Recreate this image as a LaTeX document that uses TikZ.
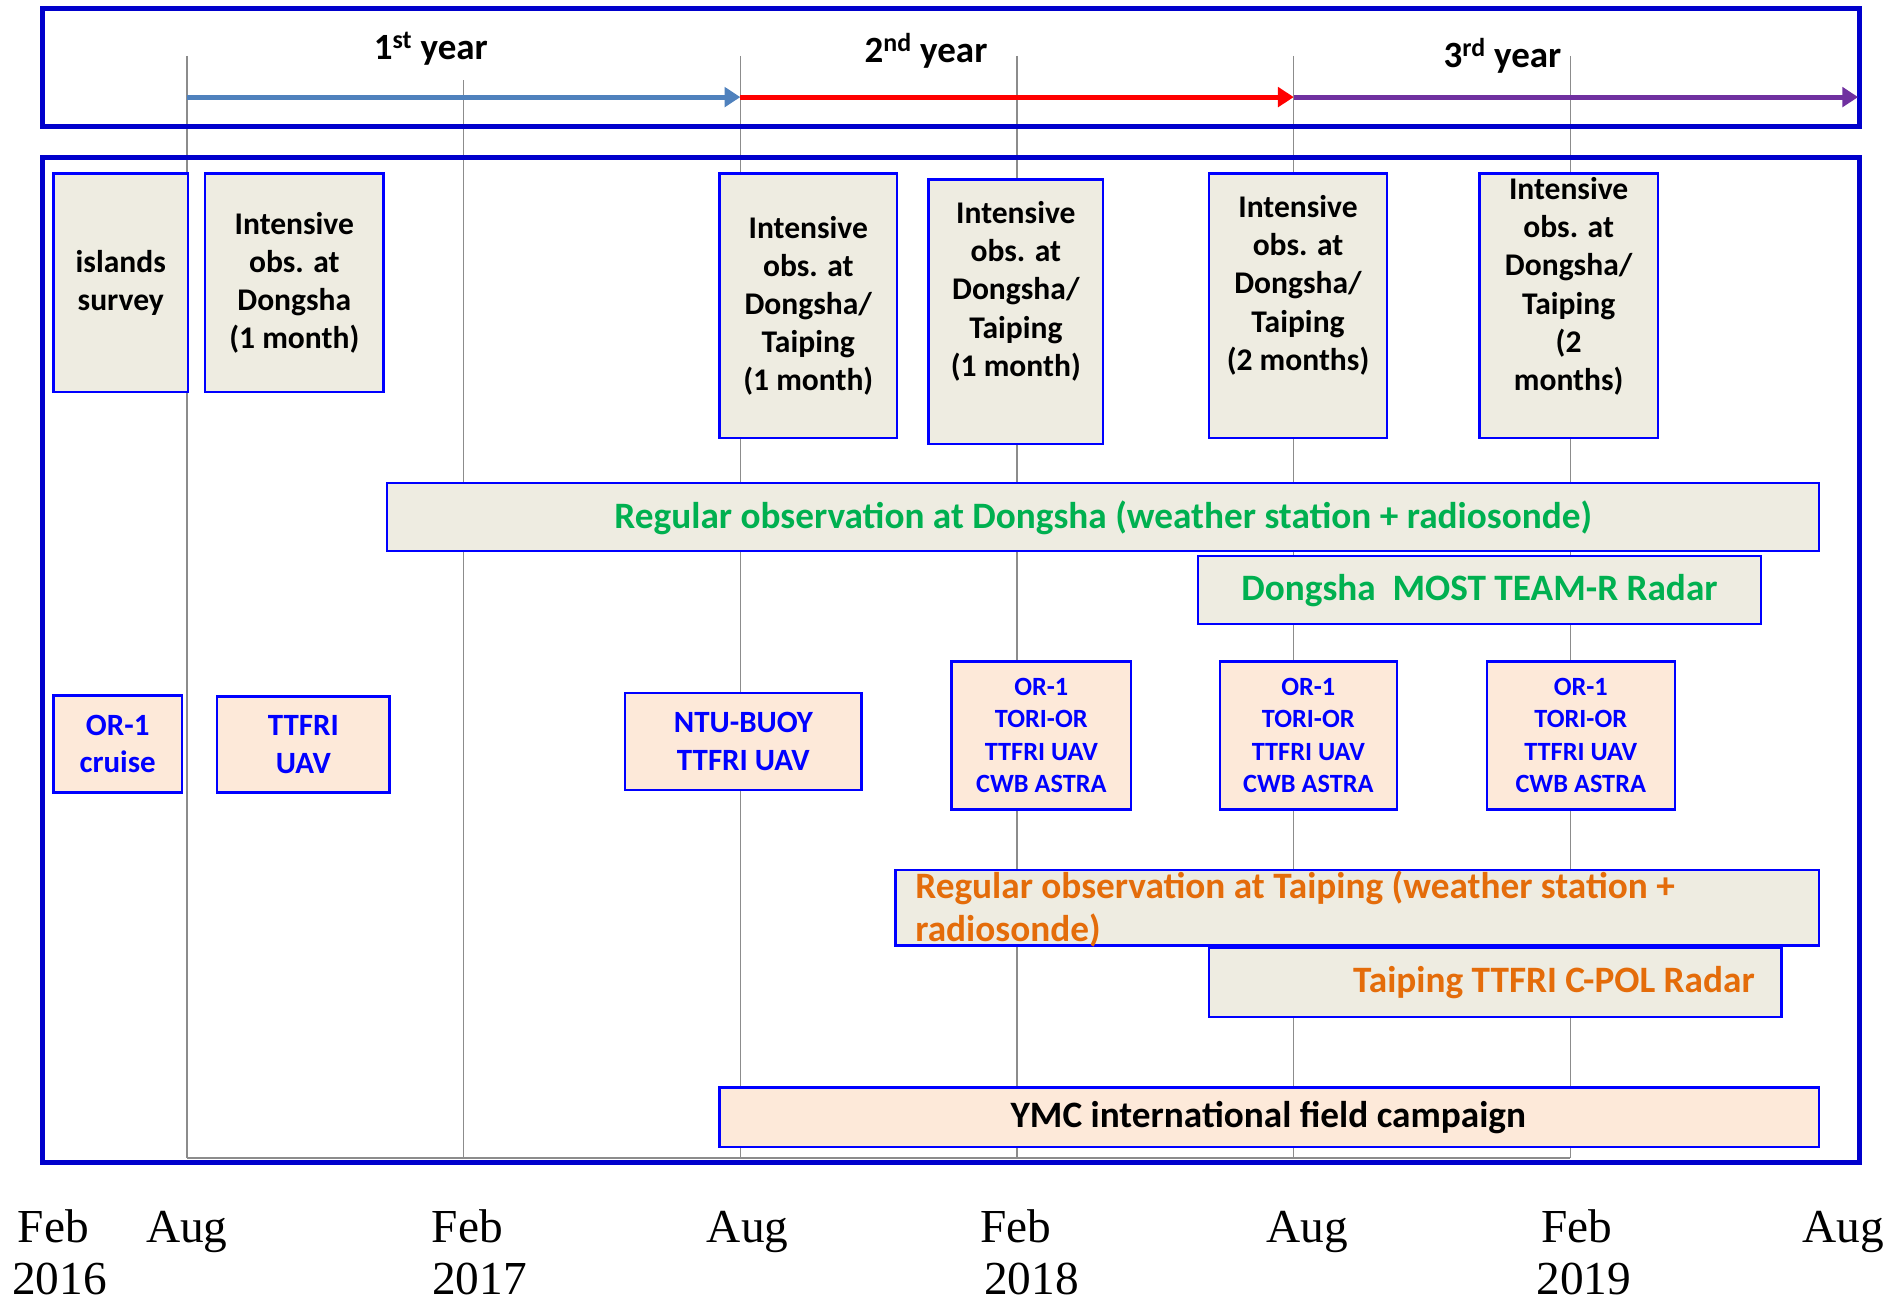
\documentclass[tikz,border=0pt]{standalone}
\usepackage{fontspec}
\setmainfont{Carlito}
\newfontfamily\tnr{Liberation Serif}
\usetikzlibrary{arrows.meta}
\definecolor{frameblue}{RGB}{0,0,204}
\definecolor{boxblue}{RGB}{0,0,255}
\definecolor{tanfill}{RGB}{238,236,225}
\definecolor{peachfill}{RGB}{253,233,217}
\definecolor{gline}{RGB}{140,140,140}
\definecolor{arrblue}{RGB}{79,129,189}
\definecolor{arrred}{RGB}{255,0,0}
\definecolor{arrpurple}{RGB}{112,48,160}
\definecolor{txtgreen}{RGB}{0,176,80}
\definecolor{txtorange}{RGB}{228,108,10}
\begin{document}
\begin{tikzpicture}[x=1pt,y=-1pt,
  framebox/.style={draw=frameblue, line width=4pt},
  gridline/.style={draw=gline, line width=1pt},
  tanbox/.style={draw=boxblue, line width=2pt, fill=tanfill, inner sep=0pt, align=center,
     font=\bfseries\fontsize{26}{31.5}\selectfont},
  peachbox/.style={draw=boxblue, line width=2pt, fill=peachfill, inner sep=0pt, align=center,
     text=boxblue, font=\bfseries\fontsize{25.5}{31}\selectfont},
  smallpeach/.style={peachbox, font=\bfseries\fontsize{21.7}{26.5}\selectfont},
  bartext/.style={inner sep=0pt, font=\bfseries\fontsize{30.7}{36}\selectfont},
  yeartext/.style={inner sep=0pt, font=\bfseries\fontsize{30.5}{36}\selectfont},
  datetext/.style={inner sep=0pt, anchor=base, font=\tnr\fontsize{39}{45}\selectfont},
  yeararrow/.style={line width=4pt, -{Triangle[length=13pt,width=16pt]}}
]
\useasboundingbox (0,0) rectangle (1568,1076);
\fill[white] (0,0) rectangle (1568,1076);

% grid lines
\foreach \gx/\gt in {154/46, 382/66, 610/46, 838/46, 1066/46, 1294/46}
  \draw[gridline] (\gx,\gt) -- (\gx,954);
\draw[draw=gline, line width=2pt] (154,954) -- (1294,954);

% frames
\draw[framebox] (35,7) rectangle (1532,104);
\draw[framebox] (35,130) rectangle (1532,958);

% year arrows
\coordinate (a0) at (154,80);
\coordinate (a1) at (610,80);
\coordinate (a2) at (1066,80);
\coordinate (a3) at (1531,80);
\draw[yeararrow, arrblue] (a0) -- (a1);
\draw[yeararrow, arrred] (a1) -- (a2);
\draw[yeararrow, arrpurple] (a2) -- (a3);

\node[yeartext] (y1) at (355,40) {1\textsuperscript{st} year};
\node[yeartext] (y2) at (763,42) {2\textsuperscript{nd} year};
\node[yeartext] (y3) at (1238,46) {3\textsuperscript{rd} year};

% intensive observation boxes
\node[tanbox, minimum width=111pt, minimum height=180pt] (islands) at (99.5,233) {islands\\survey};
\node[tanbox, minimum width=147pt, minimum height=180pt] (int1) at (242.5,233) {Intensive\\obs. at\\Dongsha\\(1 month)};
\node[tanbox, minimum width=146pt, minimum height=218pt] (int2) at (666,252) {Intensive\\obs. at\\Dongsha/\\Taiping\\(1 month)};
\node[tanbox, minimum width=144pt, minimum height=218pt] (int3) at (837,257) {};
\node[tanbox, draw=none, fill=none] (int3t) at (837,240) {Intensive\\obs. at\\Dongsha/\\Taiping\\(1 month)};
\node[tanbox, minimum width=147pt, minimum height=218pt] (int4) at (1069.5,252) {};
\node[tanbox, draw=none, fill=none] (int4t) at (1069.5,235) {Intensive\\obs. at\\Dongsha/\\Taiping\\(2 months)};
\node[tanbox, minimum width=147pt, minimum height=218pt] (int5) at (1292.5,252) {};
\node[tanbox, draw=none, fill=none] (int5t) at (1292.5,236) {Intensive\\obs. at\\Dongsha/\\Taiping\\(2\\months)};

% Dongsha bars
\node[tanbox, minimum width=1180pt, minimum height=56pt] (regD) at (909,426) {};
\node[bartext, text=txtgreen] (regDt) at (909,427) {Regular observation at Dongsha (weather station + radiosonde)};
\node[tanbox, minimum width=464pt, minimum height=56pt] (most) at (1219,486) {};
\node[bartext, text=txtgreen] (mostt) at (1219,487) {Dongsha~~MOST TEAM-R Radar};

% instrument boxes
\node[peachbox, minimum width=106pt, minimum height=80pt] (or1) at (97,613) {OR-1\\cruise};
\node[peachbox, minimum width=142pt, minimum height=79pt] (uav) at (250,613.5) {TTFRI\\UAV};
\node[peachbox, minimum width=195pt, minimum height=80pt] (ntu) at (612.5,611) {NTU-BUOY\\TTFRI UAV};
\node[smallpeach, minimum width=148pt, minimum height=122pt] (inst1) at (858,606) {OR-1\\TORI-OR\\TTFRI UAV\\CWB ASTRA};
\node[smallpeach, minimum width=146pt, minimum height=122pt] (inst2) at (1078,606) {OR-1\\TORI-OR\\TTFRI UAV\\CWB ASTRA};
\node[smallpeach, minimum width=155pt, minimum height=122pt] (inst3) at (1302.5,606) {OR-1\\TORI-OR\\TTFRI UAV\\CWB ASTRA};

% Taiping bars
\node[tanbox, minimum width=761pt, minimum height=62pt] (regT) at (1118.5,748) {};
\node[tanbox, minimum width=472pt, minimum height=57pt] (cpol) at (1232,809.5) {};
\node[bartext, text=txtorange, align=left, anchor=base west] (regTt) at (754,776) {Regular observation at Taiping (weather station +\\radiosonde)};
\node[bartext, text=txtorange, anchor=east] (cpolt) at (1446,810) {Taiping TTFRI C-POL Radar};

% YMC
\node[peachbox, minimum width=906pt, minimum height=49pt] (ymc) at (1046,920.5) {};
\node[bartext, text=black] (ymct) at (1045,921) {YMC international field campaign};

% dates
\node[datetext] (m1) at (44,1024) {Feb};
\node[datetext] (m2) at (154,1024) {Aug};
\node[datetext] (m3) at (385,1024) {Feb};
\node[datetext] (m4) at (616,1024) {Aug};
\node[datetext] (m5) at (837,1024) {Feb};
\node[datetext] (m6) at (1077,1024) {Aug};
\node[datetext] (m7) at (1299,1024) {Feb};
\node[datetext] (m8) at (1519,1024) {Aug};
\node[datetext] (d1) at (49,1067) {2016};
\node[datetext] (d2) at (395,1067) {2017};
\node[datetext] (d3) at (850,1067) {2018};
\node[datetext] (d4) at (1305,1067) {2019};
\end{tikzpicture}
\end{document}
